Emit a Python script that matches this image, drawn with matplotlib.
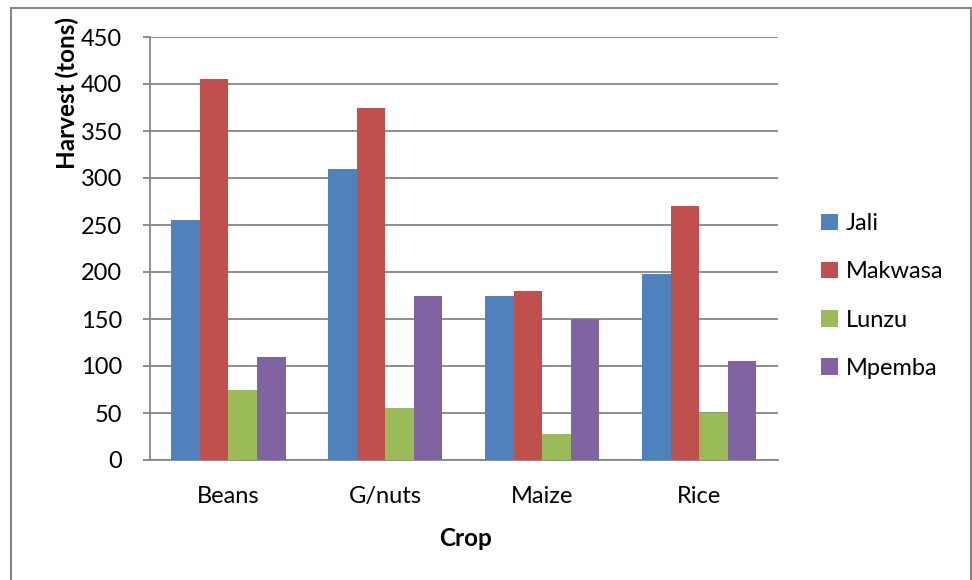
import matplotlib.pyplot as plt
from matplotlib.lines import Line2D
import numpy as np

plt.rcParams['font.family'] = ['Lato', 'DejaVu Sans']

crops = ["Beans", "G/nuts", "Maize", "Rice"]
series_names = ["Jali", "Makwasa", "Lunzu", "Mpemba"]
jali = [255, 310, 175, 198]
makwasa = [405, 375, 180, 270]
lunzu = [75, 55, 28, 50]
mpemba = [110, 175, 150, 105]
yticks = [0, 50, 100, 150, 200, 250, 300, 350, 400, 450]

colors = ["#4F81BD", "#C0504D", "#9BBB59", "#8064A2"]
grid_col = "#868686"

W, H = 972, 580
fig = plt.figure(figsize=(W / 100, H / 100), dpi=100)
ax = fig.add_axes([150 / W, (H - 460) / H, 627.5 / W, 423 / H])

x = np.arange(len(crops))
bar_w = 0.182
for k, (vals, name) in enumerate(zip([jali, makwasa, lunzu, mpemba], series_names)):
    ax.bar(x + (k - 1.5) * bar_w, vals, width=bar_w, color=colors[k], label=name, zorder=3)

ax.set_xlim(-0.5, len(crops) - 0.5)
ax.set_ylim(0, 450)
ax.set_yticks(yticks)
ax.set_xticks(x)
ax.set_xticklabels(crops)
ax.yaxis.grid(True, color=grid_col, linewidth=1.3, zorder=0)
ax.set_axisbelow(True)

for side in ["top", "right"]:
    ax.spines[side].set_visible(False)
for side in ["left", "bottom"]:
    ax.spines[side].set_color(grid_col)
    ax.spines[side].set_linewidth(1.3)

ax.tick_params(axis="y", length=5, width=1.3, color=grid_col, labelsize=17, pad=15)
ax.tick_params(axis="x", length=0, labelsize=17, pad=19)

fig.text(67 / W, (H - 93) / H, "Harvest (tons)", rotation=90, ha="center", va="center",
         fontsize=17.5, fontweight="bold")
fig.text(465 / W, (H - 538) / H, "Crop", ha="center", va="center",
         fontsize=17.5, fontweight="bold")

fig.legend(loc="center left", bbox_to_anchor=(821 / W, (H - 296) / H), frameon=False,
           fontsize=17, labelspacing=1.15, handlelength=0.7, handleheight=0.7,
           handletextpad=0.35, borderpad=0, borderaxespad=0)

# outer chart border
bx0, bx1, by0 = 10.5 / W, 970.5 / W, (H - 7.5) / H
for xs, ys in [([bx0, bx1], [by0, by0]), ([bx0, bx0], [by0, 0]), ([bx1, bx1], [by0, 0])]:
    fig.add_artist(Line2D(xs, ys, color=grid_col, linewidth=1.5, transform=fig.transFigure))

fig.savefig("out.png", dpi=100)
